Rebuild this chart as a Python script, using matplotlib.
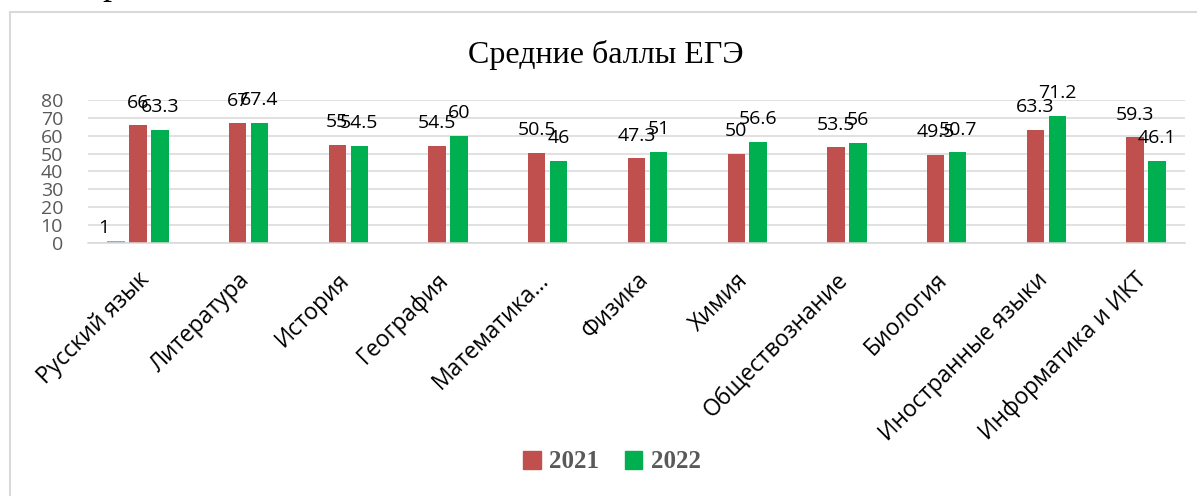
import matplotlib
matplotlib.use('Agg')
import matplotlib.pyplot as plt
from matplotlib.patches import Patch, Rectangle
import numpy as np

# --- DATA ---
subjects = ["Русский язык", "Литература", "История", "География", "Математика...",
            "Физика", "Химия", "Обществознание", "Биология", "Иностранные языки",
            "Информатика и ИКТ"]
scores_extra = [1, np.nan, np.nan, np.nan, np.nan, np.nan, np.nan, np.nan, np.nan, np.nan, np.nan]
scores_2021 = [66, 67, 55, 54.5, 50.5, 47.3, 50, 53.5, 49.5, 63.3, 59.3]
scores_2022 = [63.3, 67.4, 54.5, 60, 46, 51, 56.6, 56, 50.7, 71.2, 46.1]
years = ["2021", "2022"]
yticks = list(range(0, 81, 10))

# --- STYLE ---
W, H = 1197, 496
C_BLUE = '#8FAADC'
C_RED = '#C0504D'
C_GREEN = '#00B050'
C_GRID = '#D9D9D9'
C_TICK = '#595959'
SANS = 'Open Sans'
SERIF = 'Liberation Serif'

fig = plt.figure(figsize=(W / 100, H / 100), dpi=100)
ax = fig.add_axes([88 / W, 253 / H, 1097 / W, 143 / H])

x = np.arange(len(subjects))
slot, bw = 0.22, 0.175

series = [
    (scores_extra, -slot, C_BLUE, (-12, 13)),
    (scores_2021, 0.0, C_RED, (0, 22.5)),
    (scores_2022, slot, C_GREEN, (0, 22.5)),
]
for vals, off, col, (dx, dy) in series:
    bars = ax.bar(x + off, vals, bw, color=col, zorder=2)
    for b, v in zip(bars, vals):
        if np.isnan(v):
            continue
        ax.annotate(f"{v:g}", (b.get_x() + b.get_width() / 2, b.get_height()),
                    xytext=(dx * 0.72, dy * 0.72), textcoords='offset points',
                    ha='center', va='center', fontsize=14, family=SANS,
                    color='black', zorder=3)

ax.set_xlim(-0.5, len(subjects) - 0.5)
ax.set_ylim(0, 80)
ax.set_yticks(yticks)
ax.yaxis.grid(True, color=C_GRID, lw=1.1, zorder=0)
ax.set_axisbelow(True)
for s in ['top', 'right', 'left']:
    ax.spines[s].set_visible(False)
ax.spines['bottom'].set_color(C_GRID)
ax.spines['bottom'].set_linewidth(1.1)
ax.tick_params(length=0)
ax.tick_params(axis='y', pad=18, labelsize=14, labelcolor=C_TICK)
for t in ax.get_yticklabels():
    t.set_family(SANS)
ax.set_xticks(x)
ax.set_xticklabels(subjects, rotation=45, ha='right', va='top',
                   rotation_mode='anchor', fontsize=16.5, family=SANS)
ax.tick_params(axis='x', pad=18)

# title
fig.text(606 / W, 1 - 55 / H, "Средние баллы ЕГЭ", ha='center', va='center',
         family=SERIF, fontsize=23)

# legend (only the two years)
handles = [Patch(color=C_RED), Patch(color=C_GREEN)]
fig.legend(handles, years, loc='center', bbox_to_anchor=(612 / W, 1 - 462 / H),
           ncol=2, frameon=False,
           prop={'family': SERIF, 'weight': 'bold', 'size': 18},
           labelcolor=C_TICK, handlelength=0.7, handleheight=0.7,
           handletextpad=0.35, columnspacing=1.0)

# chart frame
fig.patches.append(Rectangle((10 / W, -0.1), 1.2, 1 - 12 / H + 0.1,
                             transform=fig.transFigure, fill=False,
                             ec=C_GRID, lw=1.5))

# bit of the page text above the chart
fig.text(102 / W, 1 + 6 / H, "р", ha='left', va='baseline', family=SERIF,
         fontsize=26)

fig.savefig('out.png', dpi=100)
